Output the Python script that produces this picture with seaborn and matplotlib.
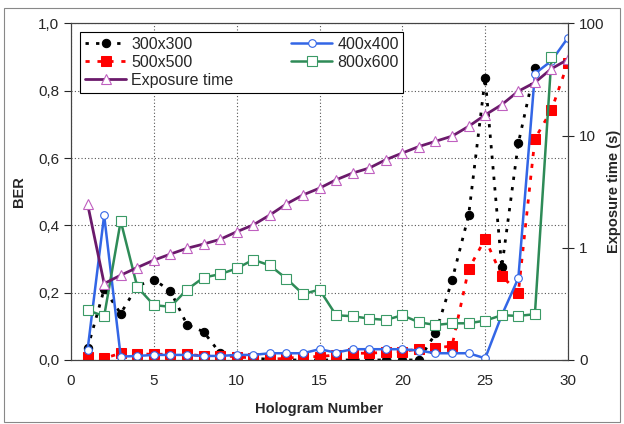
import numpy as np
import matplotlib
matplotlib.use('Agg')
import matplotlib.pyplot as plt
import seaborn as sns
from matplotlib.patches import Rectangle

sns.set_style('white')
plt.rcParams['font.family'] = ['Liberation Sans', 'DejaVu Sans']

nan = np.nan
holo = list(range(1, 31))
ber_300 = [0.035, 0.21, 0.138, 0.22, 0.239, 0.205, 0.105, 0.084, 0.02, 0.01,
           0.005, 0.002, 0.0, 0.0, 0.0, 0.0, 0.0, 0.0, 0.0, 0.0,
           0.0, 0.079, 0.237, 0.43, 0.838, 0.275, 0.644, 0.867, nan, nan]
ber_500 = [0.01, 0.005, 0.02, 0.018, 0.017, 0.017, 0.017, 0.012, 0.012, 0.01,
           0.005, 0.002, 0.005, 0.01, 0.01, 0.015, 0.02, 0.02, 0.023, 0.025,
           0.033, 0.035, 0.042, 0.27, 0.36, 0.25, 0.2, 0.657, 0.743, 0.884]
ber_400 = [0.03, 0.43, 0.01, 0.012, 0.015, 0.015, 0.015, 0.012, 0.012, 0.015,
           0.015, 0.02, 0.02, 0.02, 0.032, 0.022, 0.032, 0.032, 0.032, 0.032,
           0.028, 0.02, 0.02, 0.02, 0.005, 0.133, 0.243, 0.851, 0.889, 0.958]
ber_800 = [0.148, 0.13, 0.413, 0.217, 0.163, 0.158, 0.209, 0.245, 0.255, 0.272,
           0.298, 0.281, 0.242, 0.196, 0.209, 0.133, 0.13, 0.123, 0.119, 0.133,
           0.112, 0.104, 0.109, 0.109, 0.117, 0.133, 0.131, 0.136, 0.9, nan]
exposure = [2.46, 0.48, 0.57, 0.667, 0.776, 0.879, 0.99, 1.08, 1.19, 1.39,
            1.6, 1.96, 2.46, 2.96, 3.4, 4.04, 4.64, 5.14, 6.1, 7.0,
            8.0, 8.9, 9.9, 12.1, 15.3, 18.9, 24.9, 29.8, 39.5, 47.9]

fig = plt.figure(figsize=(6.24, 4.24), dpi=100)
ax = fig.add_axes([0.1138, 0.151, 0.7965, 0.7936])
fig.patches.append(Rectangle((0.006, 0.004), 0.988, 0.976, transform=fig.transFigure,
                             fill=False, edgecolor='#888888', lw=0.8))

sns.lineplot(x=holo, y=ber_300, ax=ax, color='black', lw=2, linestyle=(0, (1.2, 2.6)),
             marker='o', markersize=6, markeredgecolor='black', markerfacecolor='black',
             label='300x300')
sns.lineplot(x=holo, y=ber_500, ax=ax, color='#ff0000', lw=2, linestyle=(0, (1.5, 2.8)),
             marker='s', markersize=6.5, markeredgecolor='#ff0000', markerfacecolor='#ff0000',
             label='500x500')
sns.lineplot(x=holo, y=ber_400, ax=ax, color='#3366e6', lw=1.8,
             marker='o', markersize=5.5, markeredgecolor='#3366e6', markerfacecolor='white',
             markeredgewidth=0.8, label='400x400')
sns.lineplot(x=holo, y=ber_800, ax=ax, color='#2e8b57', lw=1.8,
             marker='s', markersize=7, markeredgecolor='#3a9a66', markerfacecolor='white',
             markeredgewidth=0.8, label='800x600')

ax2 = ax.twinx()
sns.lineplot(x=holo, y=exposure, ax=ax2, color='#6b1a6b', lw=2,
             marker='^', markersize=7, markeredgecolor='#c060c0', markerfacecolor='white',
             markeredgewidth=0.8, label='Exposure time')
ax2.set_yscale('log')
ax2.set_ylim(0.1, 100)
ax2.set_yticks([0.1, 1, 10, 100])
ax2.set_yticklabels(['0', '1', '10', '100'])
ax2.minorticks_off()
ax2.set_ylabel('Exposure time (s)', fontsize=10.5, fontweight='bold', labelpad=2)
ax2.tick_params(axis='y', direction='inout', length=8, width=0.8, labelsize=11, pad=4)

ax.set_xlim(0, 30)
ax.set_ylim(0, 1.0)
ax.set_xticks(range(0, 31, 5))
ax.set_yticks(np.arange(0, 1.01, 0.2))
ax.set_yticklabels([f'{v:.1f}'.replace('.', ',') for v in np.arange(0, 1.01, 0.2)])
ax.tick_params(axis='both', direction='out', length=5, width=0.8, labelsize=11)
ax.tick_params(axis='x', length=0, pad=10)
ax.grid(True, linestyle=(0, (1, 2)), color='#555555', lw=0.8)
ax.set_xlabel('Hologram Number', fontsize=10.5, fontweight='bold', labelpad=10)
ax.set_ylabel('BER', fontsize=10.5, fontweight='bold', labelpad=9)
for a in (ax, ax2):
    for s in a.spines.values():
        s.set_color('#444444')
        s.set_linewidth(0.8)

h1, l1 = ax.get_legend_handles_labels()
h2, l2 = ax2.get_legend_handles_labels()
ax.get_legend().remove()
ax2.get_legend().remove()
order = [0, 1, 4, 2, 3]
hh = h1 + h2
ll = l1 + l2
leg = ax2.legend([hh[i] for i in order], [ll[i] for i in order], ncol=2,
                 loc='upper left', bbox_to_anchor=(0.018, 0.975), fontsize=11.5,
                 frameon=True, fancybox=False, edgecolor='black', framealpha=1,
                 handlelength=2.6, handletextpad=0.3, columnspacing=3.6,
                 labelspacing=0.2, borderpad=0.3, borderaxespad=0)
leg.get_frame().set_linewidth(0.8)

fig.savefig('out.png', dpi=100)
